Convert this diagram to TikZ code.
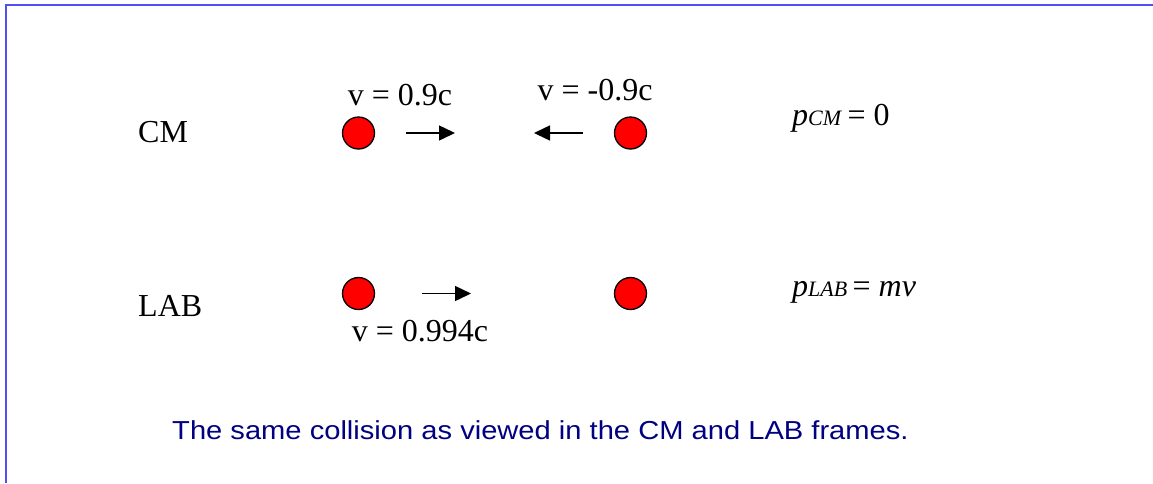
\documentclass[tikz,border=0pt]{standalone}
\usepackage{fontspec}
\setmainfont{Liberation Serif}
\newfontfamily\capfont{Liberation Sans}
\usetikzlibrary{arrows.meta}
\definecolor{frameblue}{RGB}{80,80,245}
\definecolor{capblue}{RGB}{0,0,128}
\begin{document}
\begin{tikzpicture}[x=1pt,y=-1pt,
  ball/.style={circle,draw=black,line width=1.3pt,fill=red,minimum size=32pt,inner sep=0pt},
  lbl/.style={inner sep=0pt,font=\fontsize{32}{36}\selectfont},
  vel/.style={line width=1.5pt,-{Triangle[length=16pt,width=15pt]}},
  caption/.style={inner sep=0pt,text=capblue,font=\capfont\fontsize{26}{30}\selectfont,xscale=1.12}]
\useasboundingbox (0,0) rectangle (1153,483);
\fill[white] (0,0) rectangle (1153,483);
% frame lines
\coordinate (tl) at (6,5);
\coordinate (tr) at (1153,5);
\coordinate (bl) at (6,483);
\draw[frameblue,line width=2.2pt] (bl) -- (tl) -- (tr);
% CM row
\node[lbl,anchor=base west] (cm) at (138,142) {CM};
\node[ball] (c1) at (358.5,133) {};
\node[ball] (c2) at (630.5,133) {};
\coordinate (a1s) at (406,133);
\coordinate (a1e) at (455,133);
\draw[vel] (a1s) -- (a1e);
\coordinate (a2s) at (583,133);
\coordinate (a2e) at (534,133);
\draw[vel] (a2s) -- (a2e);
\node[lbl,anchor=base] (v1) at (400,105) {v = 0.9c};
\node[lbl,anchor=base] (v2) at (595,100) {v = -0.9c};
\node[lbl,anchor=base west] (pcm) at (792,125) {\textit{p}{\fontsize{22}{24}\selectfont\textit{CM}}\,= 0};
% LAB row
\node[lbl,anchor=base west] (lab) at (138,316) {LAB};
\node[ball] (l1) at (358.5,293.5) {};
\node[ball] (l2) at (630.5,293.5) {};
\coordinate (a3s) at (422,293.5);
\coordinate (a3e) at (471,293.5);
\draw[vel] (a3s) -- (a3e);
\node[lbl,anchor=base] (v3) at (420,341) {v = 0.994c};
\node[lbl,anchor=base west] (plab) at (792,296) {\textit{p}{\fontsize{22}{24}\selectfont\textit{LAB}}\,= \textit{mv}};
% caption
\node[caption,anchor=base west] (cap) at (172,439) {The same collision as viewed in the CM and LAB frames.};
\end{tikzpicture}
\end{document}
